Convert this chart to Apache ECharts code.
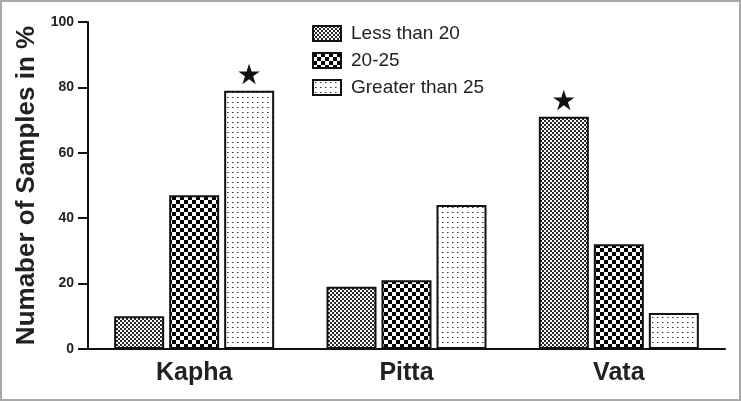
<!DOCTYPE html>
<html>
<head>
<meta charset="utf-8">
<script src="https://cdn.jsdelivr.net/npm/echarts@6/dist/echarts.min.js"></script>
<style>
html,body{margin:0;padding:0;background:#fff;}
#chart{width:741px;height:401px;}
</style>
</head>
<body>
<div id="chart"></div>
<script>
// ---- data ----
var categories = ['Kapha', 'Pitta', 'Vata'];
var seriesNames = ['Less than 20', '20-25', 'Greater than 25'];
var lessThan20 = [10, 19, 71];
var from20to25 = [47, 21, 32];
var greaterThan25 = [79, 44, 11];
var starLess = [false, false, true];
var starMid = [false, false, false];
var starGreater = [true, false, false];
var yTicks = [0, 20, 40, 60, 80, 100];

// ---- patterns ----
function makePattern(w, h, draw) {
  var c = document.createElement('canvas');
  c.width = w; c.height = h;
  var ctx = c.getContext('2d');
  ctx.fillStyle = '#fff';
  ctx.fillRect(0, 0, w, h);
  draw(ctx);
  return { image: c, repeat: 'repeat' };
}
var patFine = makePattern(4, 4, function (ctx) {
  ctx.fillStyle = '#2a2a2a';
  ctx.fillRect(0, 0, 2, 2);
  ctx.fillRect(2, 2, 2, 2);
});
var patCheck = makePattern(8, 8, function (ctx) {
  ctx.fillStyle = '#000';
  ctx.fillRect(0, 0, 4, 4);
  ctx.fillRect(4, 4, 4, 4);
});
var patDots = makePattern(5, 5, function (ctx) {
  ctx.fillStyle = '#333';
  ctx.fillRect(2, 2, 1, 1);
  ctx.fillStyle = '#999';
  ctx.fillRect(3, 2, 1, 1);
});

function buildData(values, stars) {
  return values.map(function (v, i) {
    if (stars[i]) {
      return {
        value: v,
        label: {
          show: true, position: 'top', distance: 0,
          formatter: '\u2605', fontSize: 28, color: '#111',
          fontFamily: 'DejaVu Sans'
        }
      };
    }
    return v;
  });
}

var chart = echarts.init(document.getElementById('chart'), null, { renderer: 'canvas' });
var font = '"Liberation Sans", Arial, sans-serif';

function barSeries(name, values, stars, pat) {
  return {
    name: name,
    type: 'bar',
    barWidth: 50,
    barGap: '10%',
    data: buildData(values, stars),
    itemStyle: { color: pat, borderColor: '#111', borderWidth: 2 },
    emphasis: { disabled: true }
  };
}

chart.setOption({
  animation: false,
  graphic: [{
    type: 'rect', z: 100,
    shape: { x: 1, y: 1, width: 739, height: 399 },
    style: { fill: 'none', stroke: '#a9a9a9', lineWidth: 2 }
  }],
  grid: { left: 88, right: 16, top: 22, bottom: 52, containLabel: false },
  legend: {
    orient: 'vertical', left: 307, top: 19,
    itemWidth: 28, itemHeight: 15, itemGap: 8,
    icon: 'rect',
    data: seriesNames,
    textStyle: { fontFamily: font, fontSize: 19, color: '#222', padding: [0, 0, 0, 5] },
    selectedMode: false
  },
  xAxis: {
    type: 'category',
    data: categories,
    axisLine: { lineStyle: { color: '#111', width: 2 } },
    axisTick: { alignWithLabel: true, length: 8, lineStyle: { color: '#111', width: 2 } },
    axisLabel: { fontFamily: font, fontWeight: 'bold', fontSize: 25, color: '#222', margin: 12 }
  },
  yAxis: {
    type: 'value',
    min: yTicks[0], max: yTicks[yTicks.length - 1], interval: 20,
    name: 'Numaber of Samples in %',
    nameLocation: 'middle', nameGap: 44,
    nameTextStyle: { fontFamily: font, fontWeight: 'bold', fontSize: 26, color: '#222' },
    axisLine: { show: true, lineStyle: { color: '#111', width: 2 } },
    axisTick: { show: true, length: 10, lineStyle: { color: '#111', width: 2 } },
    axisLabel: { fontFamily: font, fontWeight: 'bold', fontSize: 14, color: '#222', margin: 14 },
    splitLine: { show: false }
  },
  series: [
    barSeries(seriesNames[0], lessThan20, starLess, patFine),
    barSeries(seriesNames[1], from20to25, starMid, patCheck),
    barSeries(seriesNames[2], greaterThan25, starGreater, patDots)
  ]
});
</script>
</body>
</html>
